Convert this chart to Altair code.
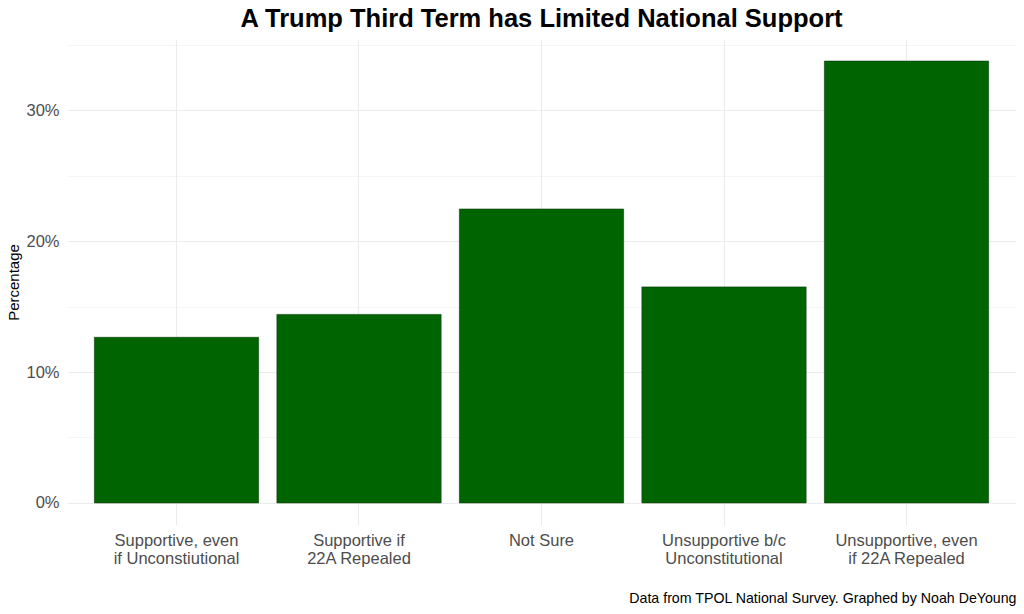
import altair as alt
import pandas as pd

categories = [
    "Supportive, even\nif Unconstiutional",
    "Supportive if\n22A Repealed",
    "Not Sure",
    "Unsupportive b/c\nUnconstitutional",
    "Unsupportive, even\nif 22A Repealed",
]
percentages = [12.65, 14.4, 22.45, 16.5, 33.75]
major_ticks = [0, 10, 20, 30]
minor_ticks = [5, 15, 25, 35]

df = pd.DataFrame({"category": categories, "pct": percentages})
top = max(percentages)
domain = [-0.05 * top, 1.05 * top]

FONT = "Liberation Sans"
GRID = "#ebebeb"

x_enc = alt.X(
    "category:N",
    sort=categories,
    scale=alt.Scale(paddingInner=0.1, paddingOuter=0.15),
    axis=alt.Axis(
        title="Data from TPOL National Survey. Graphed by Noah DeYoung",
        titleAnchor="end",
        titleFontSize=14.2,
        titleFontWeight="normal",
        titleColor="black",
        titleFont=FONT,
        titlePadding=25,
        labelExpr="split(datum.label, '\\n')",
        labelFontSize=16.5,
        labelFont=FONT,
        labelColor="#4d4d4d",
        labelLineHeight=18,
        labelPadding=15,
        labelAngle=0,
        labelAlign="center",
        ticks=False,
        domain=False,
        grid=True,
        gridColor=GRID,
        gridWidth=1.1,
        bandPosition=0.5,
    ),
)

bars = alt.Chart(df).mark_bar(
    color="#006400", stroke="#0b3d0b", strokeWidth=0.6
).encode(
    x=x_enc,
    y=alt.Y(
        "pct:Q",
        scale=alt.Scale(domain=domain, nice=False, zero=False),
        axis=alt.Axis(
            values=major_ticks,
            labelExpr="datum.value + '%'",
            title="Percentage",
            titleFontSize=15,
            titleFontWeight="normal",
            titleFont=FONT,
            titleColor="black",
            titlePadding=4,
            labelFontSize=16.5,
            labelFont=FONT,
            labelColor="#4d4d4d",
            labelPadding=8,
            ticks=False,
            domain=False,
            grid=True,
            gridColor=GRID,
            gridWidth=1.1,
        ),
    ),
)

minor = alt.Chart(df).mark_bar(opacity=0).encode(
    x=alt.X("category:N", sort=categories),
    y=alt.Y(
        "pct:Q",
        axis=alt.Axis(
            orient="right",
            values=minor_ticks,
            labels=False,
            ticks=False,
            domain=False,
            title=None,
            grid=True,
            gridColor=GRID,
            gridWidth=0.55,
        ),
    ),
)

chart = (
    alt.layer(minor, bars)
    .resolve_axis(y="independent")
    .properties(
        width=949,
        height=486,
        autosize=alt.AutoSizeParams(type="none"),
        padding={"left": 59, "top": 31, "right": 0, "bottom": 85},
        title=alt.TitleParams(
            text="A Trump Third Term has Limited National Support",
            fontSize=25.5,
            fontWeight="bold",
            font=FONT,
            color="black",
            anchor="middle",
            offset=7,
        ),
        background="white",
    )
    .configure_view(stroke=None)
)

chart.save("out.html", embed_options={"renderer": "svg", "actions": False})
